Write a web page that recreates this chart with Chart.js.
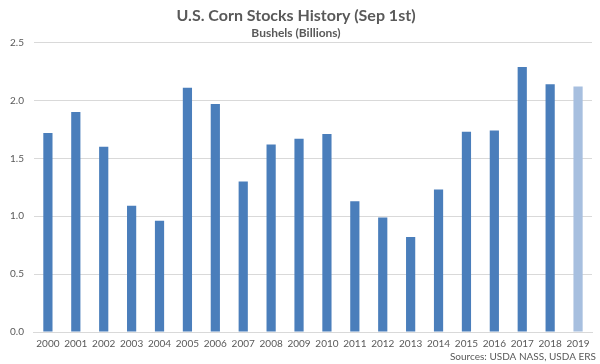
<!DOCTYPE html>
<html>
<head>
<meta charset="utf-8">
<script src="https://cdn.jsdelivr.net/npm/chart.js@4/dist/chart.umd.min.js"></script>
<style>
html,body{margin:0;padding:0;background:#fff;}
#wrap{width:600px;height:364px;position:relative;}
</style>
</head>
<body>
<div id="wrap"><canvas id="c" width="600" height="364"></canvas></div>
<script>
const years = ["2000","2001","2002","2003","2004","2005","2006","2007","2008","2009","2010","2011","2012","2013","2014","2015","2016","2017","2018","2019"];
const stocks = [1.72,1.90,1.60,1.09,0.96,2.11,1.97,1.30,1.62,1.67,1.71,1.13,0.99,0.82,1.23,1.73,1.74,2.29,2.14,2.12];
const titleText = "U.S. Corn Stocks History (Sep 1st)";
const subtitleText = "Bushels (Billions)";
const sourceText = "Sources: USDA NASS, USDA ERS";

const barColors = years.map((y,i)=> i===years.length-1 ? "#a7bfdf" : "#4a7ebb");

const sourcePlugin = {
  id:'source',
  afterDraw(chart){
    const ctx = chart.ctx;
    ctx.save();
    ctx.font = "10px Lato";
    ctx.fillStyle = "#595959";
    ctx.textAlign = "right";
    ctx.textBaseline = "middle";
    ctx.fillText(sourceText, 596, 357);
    ctx.restore();
  }
};

new Chart(document.getElementById('c'), {
  type:'bar',
  data:{labels:years, datasets:[{data:stocks, backgroundColor:barColors, borderWidth:0, categoryPercentage:1.0, barPercentage:0.33}]},
  options:{
    responsive:false, animation:false,
    layout:{padding:{left:0,right:8,top:0,bottom:8}},
    plugins:{
      legend:{display:false}, tooltip:{enabled:false},
      title:{display:true, text:titleText, color:"#595959", font:{family:"Lato", size:16, weight:"bold"}, padding:{top:6,bottom:1}},
      subtitle:{display:true, text:subtitleText, color:"#595959", font:{family:"Lato", size:12, weight:"bold"}, padding:{top:0,bottom:2}}
    },
    scales:{
      x:{grid:{display:false, drawTicks:false}, border:{color:"#d9d9d9"}, ticks:{color:"#595959", font:{family:"Lato", size:10}, padding:6, maxRotation:0, autoSkip:false}},
      y:{min:0,max:2.5, ticks:{stepSize:0.5, color:"#595959", font:{family:"Lato", size:10}, padding:10, callback:v=>v.toFixed(1)}, grid:{color:"#d9d9d9", drawTicks:false}, border:{display:false}}
    }
  },
  plugins:[sourcePlugin]
});
</script>
</body>
</html>
